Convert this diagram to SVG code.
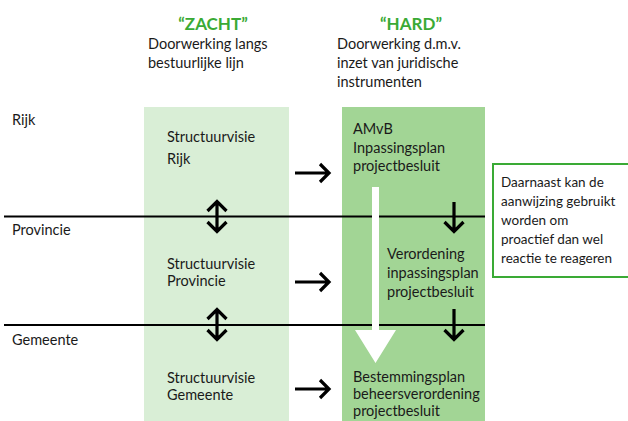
<svg xmlns="http://www.w3.org/2000/svg" width="628" height="421" viewBox="0 0 628 421">
<defs>
<style>
text{font-family:Lato,"Open Sans","Liberation Sans",sans-serif;font-size:14.5px;fill:#1a1a1a}
.h{font-weight:bold;fill:#3aaa35;font-size:17px;text-anchor:middle}
.n{font-size:13.5px}
.ln{stroke:#000;stroke-width:2.2;fill:none}
.ar{stroke:#000;stroke-width:3.2;fill:none}
</style>
</defs>
<rect width="628" height="421" fill="#fff"/>
<g id="header-zacht">
<text class="h" x="213" y="30">“ZACHT”</text>
<text x="148" y="49">Doorwerking langs</text>
<text x="148" y="68">bestuurlijke lijn</text>
</g>
<g id="header-hard">
<text class="h" x="411" y="30">“HARD”</text>
<text x="337" y="49">Doorwerking d.m.v.</text>
<text x="337" y="68">inzet van juridische</text>
<text x="337" y="87">instrumenten</text>
</g>
<g id="col-zacht">
<rect x="144" y="107" width="145" height="314" fill="#d9eed6"/>
</g>
<g id="col-hard">
<rect x="342" y="107" width="143" height="314" fill="#a2d595"/>
</g>
<g id="levels">
<text x="12" y="125">Rijk</text>
<text x="12" y="235">Provincie</text>
<text x="12" y="345">Gemeente</text>
</g>
<g id="connectors">
<line class="ln" x1="4" y1="216.5" x2="485" y2="216.5"/>
<line class="ln" x1="4" y1="325" x2="485" y2="325"/>
<path class="ar" d="M217 201V232M207.5 211l9.5-9.5 9.5 9.5M207.5 222l9.5 9.5 9.5-9.5"/>
<path class="ar" d="M217 309V340M207.5 319l9.5-9.5 9.5 9.5M207.5 330l9.5 9.5 9.5-9.5"/>
<path class="ar" d="M295 173H329M320 164l9 9-9 9"/>
<path class="ar" d="M295 282H329M320 273l9 9-9 9"/>
<path class="ar" d="M295 389H329M320 380l9 9-9 9"/>
<path class="ar" d="M454 202V231M444.5 222l9.5 9.5 9.5-9.5"/>
<path class="ar" d="M454 309V339M444.5 330l9.5 9.5 9.5-9.5"/>
<path d="M372 187H379V330H396L375.5 363L355 330H372Z" fill="#fff"/>
</g>
<g id="zacht-rijk">
<text x="167" y="142">Structuurvisie</text>
<text x="167" y="164">Rijk</text>
</g>
<g id="zacht-provincie">
<text x="167" y="269">Structuurvisie</text>
<text x="167" y="286">Provincie</text>
</g>
<g id="zacht-gemeente">
<text x="167" y="383">Structuurvisie</text>
<text x="167" y="400">Gemeente</text>
</g>
<g id="hard-rijk">
<text x="353" y="134">AMvB</text>
<text x="353" y="153">Inpassingsplan</text>
<text x="353" y="171">projectbesluit</text>
</g>
<g id="hard-provincie">
<text x="387" y="259">Verordening</text>
<text x="387" y="278">inpassingsplan</text>
<text x="387" y="297">projectbesluit</text>
</g>
<g id="hard-gemeente">
<text x="353" y="382">Bestemmingsplan</text>
<text x="353" y="399">beheersverordening</text>
<text x="353" y="416">projectbesluit</text>
</g>
<g id="note">
<rect x="493" y="164" width="137" height="113" fill="#fff" stroke="#3aaa35" stroke-width="2"/>
<text class="n" x="501" y="187">Daarnaast kan de</text>
<text class="n" x="501" y="206">aanwijzing gebruikt</text>
<text class="n" x="501" y="225">worden om</text>
<text class="n" x="501" y="244">proactief dan wel</text>
<text class="n" x="501" y="263">reactie te reageren</text>
</g>
</svg>
